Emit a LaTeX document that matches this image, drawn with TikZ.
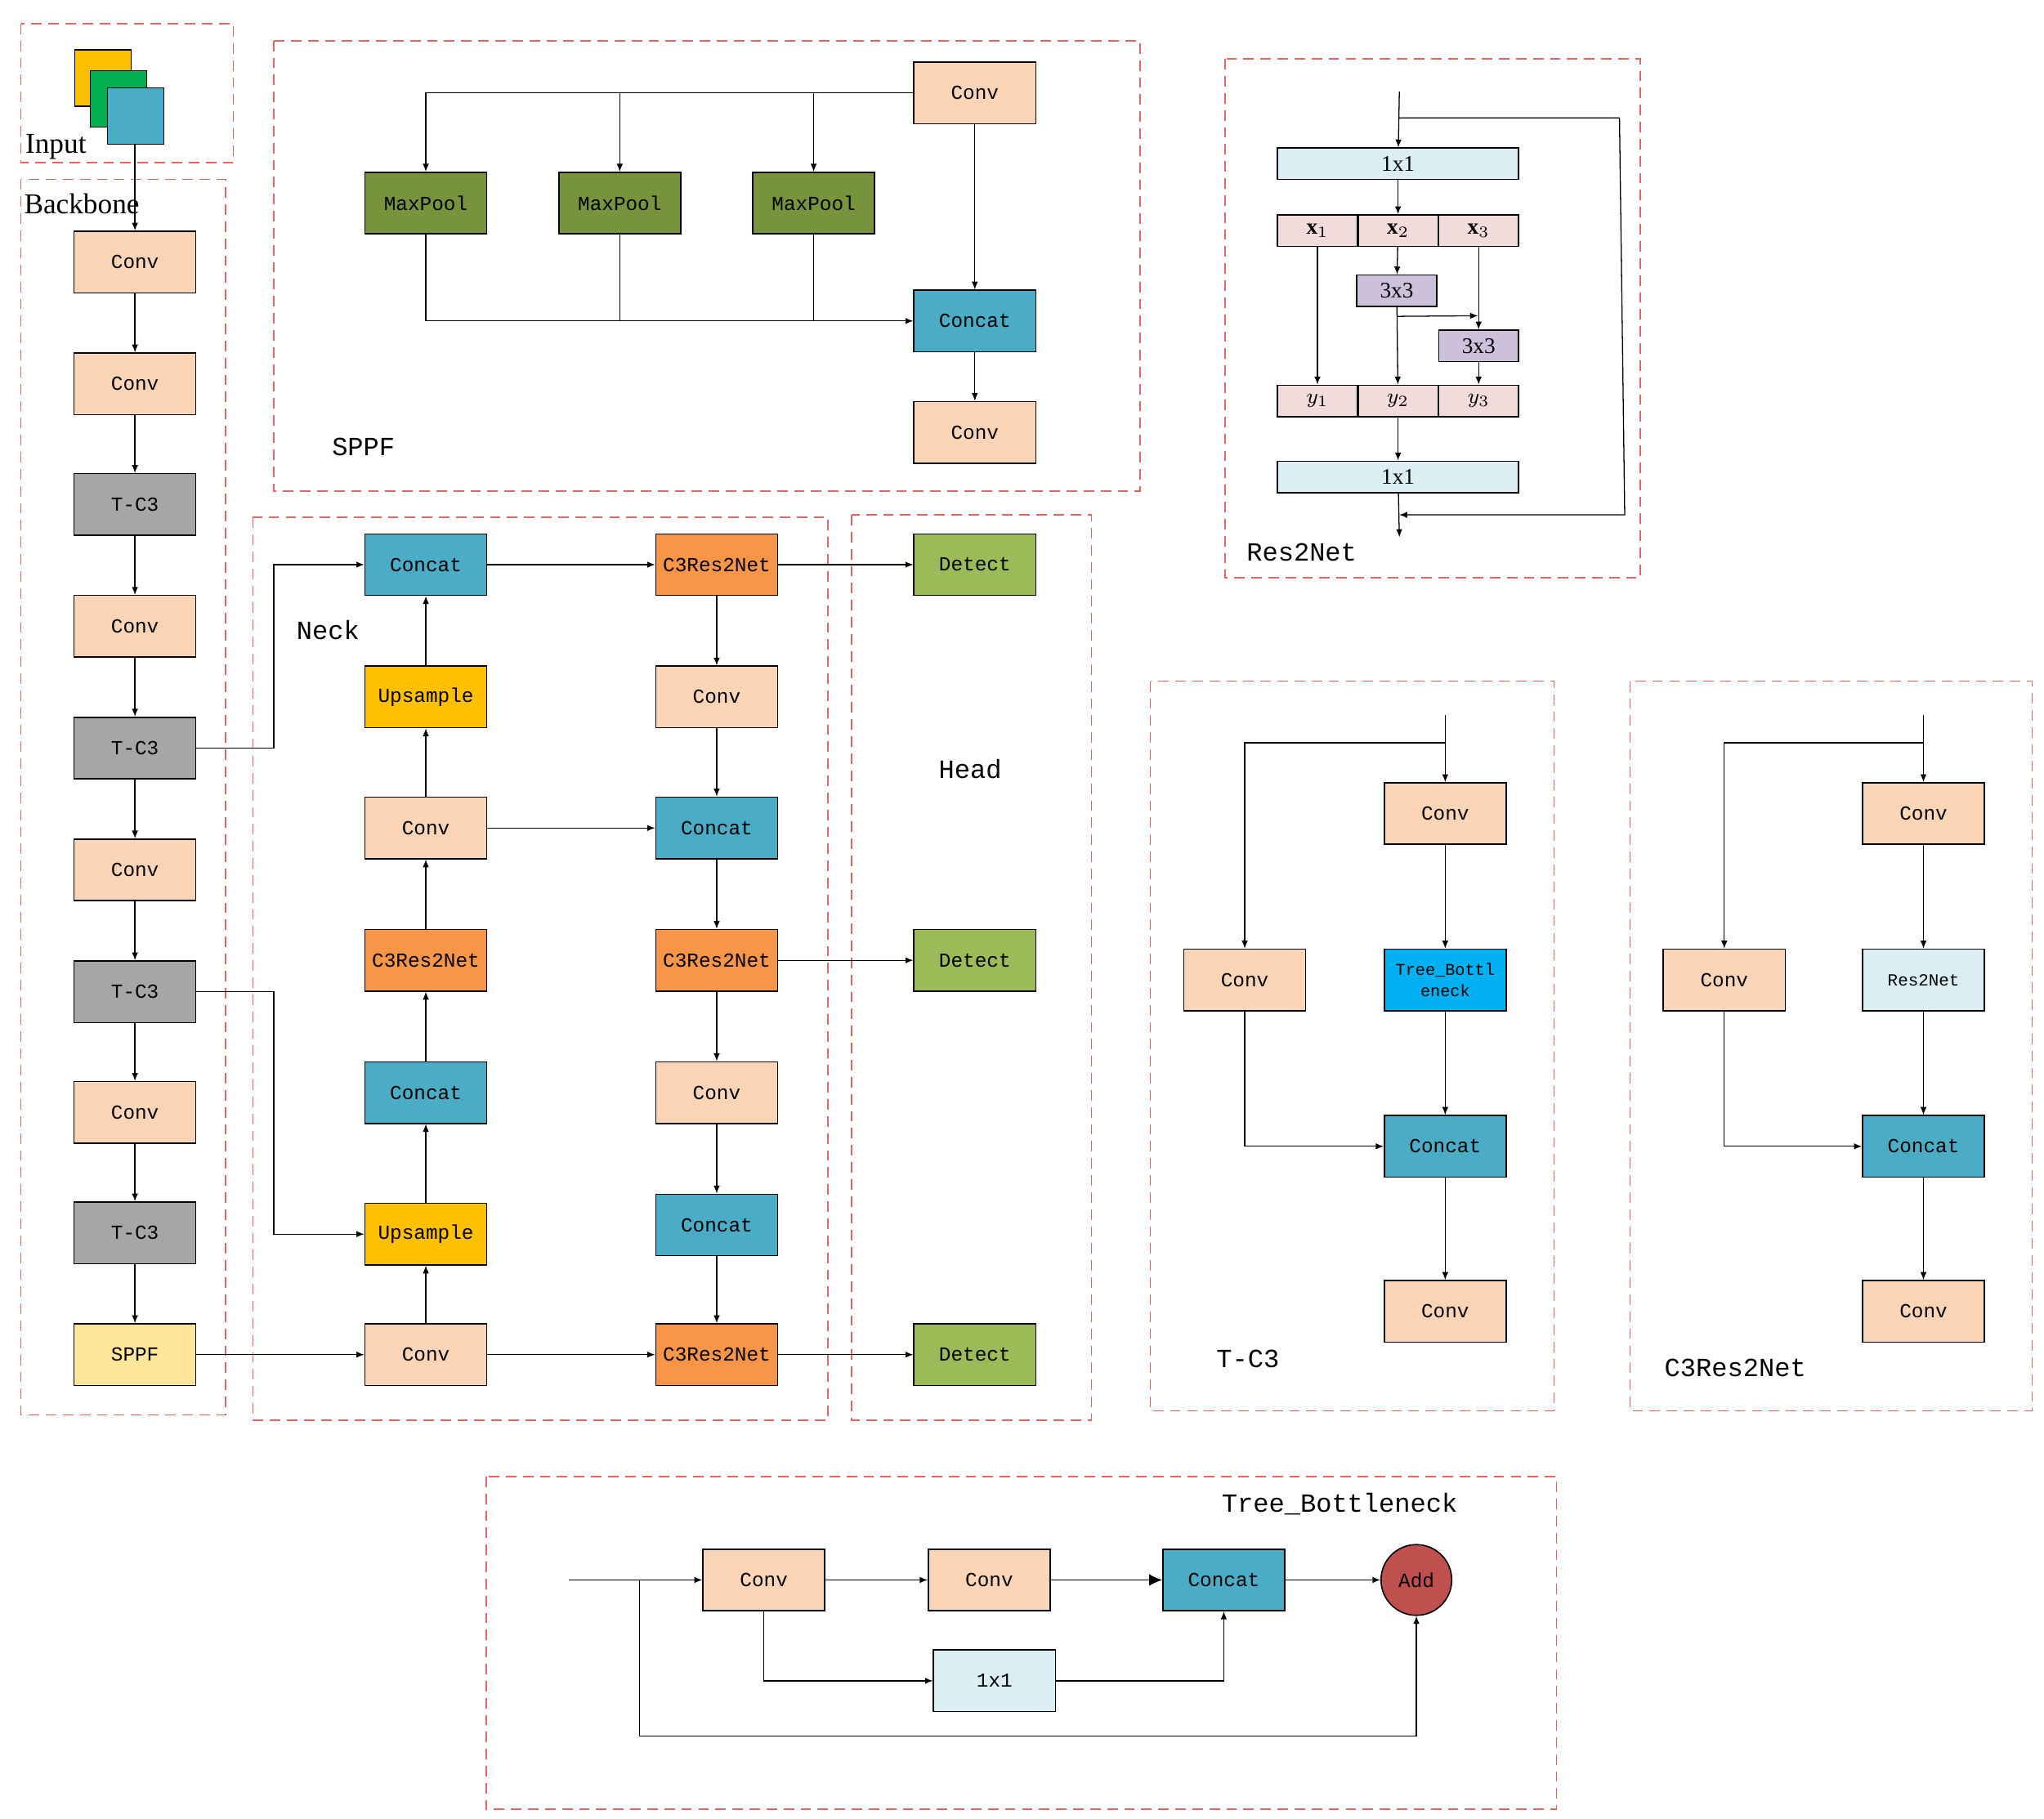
\documentclass[tikz,border=0pt]{standalone}
\usepackage{fontspec}
\setmainfont{Liberation Serif}
\newfontfamily\mono{Liberation Mono}
\usetikzlibrary{arrows.meta}
\definecolor{dashred}{HTML}{E06666}
\definecolor{cpeach}{HTML}{FBD5B5}
\definecolor{cgray}{HTML}{A6A6A6}
\definecolor{csppf}{HTML}{FFE699}
\definecolor{cmax}{HTML}{77933C}
\definecolor{cteal}{HTML}{4BACC6}
\definecolor{cup}{HTML}{FFC000}
\definecolor{corange}{HTML}{F79646}
\definecolor{cdet}{HTML}{9BBB59}
\definecolor{clblue}{HTML}{DAEEF3}
\definecolor{cpink}{HTML}{F2DCDB}
\definecolor{cpurp}{HTML}{CCC0DA}
\definecolor{ctree}{HTML}{00B0F0}
\definecolor{cadd}{HTML}{C0504D}
\definecolor{cygreen}{HTML}{00B050}
\begin{document}
\begin{tikzpicture}[x=0.5pt,y=-0.5pt,
 bx/.style={draw,line width=0.5pt,minimum width=46.5pt,minimum height=23.5pt,inner sep=0pt,font=\mono\fontsize{7.6}{9}\selectfont},
 sb/.style={draw,line width=0.5pt,minimum width=92pt,minimum height=12pt,inner sep=0pt,font=\fontsize{8.5}{9}\selectfont},
 cell/.style={draw,line width=0.5pt,minimum width=30.5pt,minimum height=12pt,inner sep=0pt,font=\fontsize{8.5}{9}\selectfont},
 dsh/.style={draw=dashred,dash pattern=on 4pt off 2.5pt,line width=0.5pt},
 arr/.style={-{Latex[length=3pt,width=2.4pt]},line width=0.4pt},
 ln/.style={line width=0.4pt},
 ttl/.style={anchor=base west,inner sep=0pt,font=\mono\fontsize{10}{11}\selectfont}]
\useasboundingbox (0,0) rectangle (1560,1388);
% ---------- Input
\draw[dsh] (16,18) rectangle (178,124);
\draw[fill=cup] (57,38) rectangle (100,81);
\draw[fill=cygreen] (69,54) rectangle (112,97);
\draw[fill=cteal] (82,67) rectangle (125,110);
\coordinate (inp) at (103,110);
\node[anchor=base west,inner sep=0pt,font=\fontsize{11}{12}\selectfont] at (19,117) {Input};
% ---------- Backbone
\draw[dsh] (16,137) rectangle (172,1080);
\node[anchor=base west,inner sep=0pt,font=\fontsize{11}{12}\selectfont] at (18,163) {Backbone};
\node[bx,fill=cpeach] (b1) at (103,200) {Conv};
\node[bx,fill=cpeach] (b2) at (103,293) {Conv};
\node[bx,fill=cgray] (b3) at (103,385) {T-C3};
\node[bx,fill=cpeach] (b4) at (103,478) {Conv};
\node[bx,fill=cgray] (b5) at (103,571) {T-C3};
\node[bx,fill=cpeach] (b6) at (103,664) {Conv};
\node[bx,fill=cgray] (b7) at (103,757) {T-C3};
\node[bx,fill=cpeach] (b8) at (103,849) {Conv};
\node[bx,fill=cgray] (b9) at (103,941) {T-C3};
\node[bx,fill=csppf] (b10) at (103,1034) {SPPF};
\draw[arr] (inp) -- (b1);
\foreach \a/\b in {b1/b2,b2/b3,b3/b4,b4/b5,b5/b6,b6/b7,b7/b8,b8/b9,b9/b10} \draw[arr] (\a) -- (\b);
% ---------- SPPF
\draw[dsh] (209,31) rectangle (870,375);
\node[ttl] at (253,348) {SPPF};
\node[bx,fill=cpeach] (s0) at (744,71) {Conv};
\node[bx,fill=cmax] (m1) at (325,155) {MaxPool};
\node[bx,fill=cmax] (m2) at (473,155) {MaxPool};
\node[bx,fill=cmax] (m3) at (621,155) {MaxPool};
\node[bx,fill=cteal] (sc) at (744,245) {Concat};
\node[bx,fill=cpeach] (s2) at (744,330) {Conv};
\draw[arr] (s0.west) -| (m1.north);
\draw[arr] (m2.north|-s0.west) -- (m2.north);
\draw[arr] (m3.north|-s0.west) -- (m3.north);
\draw[arr] (m1.south) |- (sc.west);
\draw[ln] (m2.south) -- (m2.south|-sc.west);
\draw[ln] (m3.south) -- (m3.south|-sc.west);
\draw[arr] (s0) -- (sc);
\draw[arr] (sc) -- (s2);
% ---------- Neck
\draw[dsh] (193,395) rectangle (632,1084);
\node[ttl] at (226,488) {Neck};
\node[bx,fill=cteal] (n1) at (325,431) {Concat};
\node[bx,fill=cup] (n2) at (325,532) {Upsample};
\node[bx,fill=cpeach] (n3) at (325,632) {Conv};
\node[bx,fill=corange] (n4) at (325,733) {C3Res2Net};
\node[bx,fill=cteal] (n5) at (325,834) {Concat};
\node[bx,fill=cup] (n6) at (325,942) {Upsample};
\node[bx,fill=cpeach] (n7) at (325,1034) {Conv};
\node[bx,fill=corange] (r1) at (547,431) {C3Res2Net};
\node[bx,fill=cpeach] (r2) at (547,532) {Conv};
\node[bx,fill=cteal] (r3) at (547,632) {Concat};
\node[bx,fill=corange] (r4) at (547,733) {C3Res2Net};
\node[bx,fill=cpeach] (r5) at (547,834) {Conv};
\node[bx,fill=cteal] (r6) at (547,935) {Concat};
\node[bx,fill=corange] (r7) at (547,1034) {C3Res2Net};
\foreach \a/\b in {n7/n6,n6/n5,n5/n4,n4/n3,n3/n2,n2/n1,r1/r2,r2/r3,r3/r4,r4/r5,r5/r6,r6/r7,n1/r1,n3/r3,n7/r7,b10/n7} \draw[arr] (\a) -- (\b);
\draw[arr] (b5.east) -- (209,571) -- (209,431) -- (n1.west);
\draw[arr] (b7.east) -- (209,757) -- (209,942) -- (n6.west);
% ---------- Head
\draw[dsh] (650,393) rectangle (833,1084);
\node[ttl] at (716,594) {Head};
\node[bx,fill=cdet] (d1) at (744,431) {Detect};
\node[bx,fill=cdet] (d2) at (744,733) {Detect};
\node[bx,fill=cdet] (d3) at (744,1034) {Detect};
\draw[arr] (r1) -- (d1); \draw[arr] (r4) -- (d2); \draw[arr] (r7) -- (d3);
% ---------- Res2Net
\draw[dsh] (935,45) rectangle (1252,441);
\node[ttl] at (951,428) {Res2Net};
\node[sb,fill=clblue] (q1) at (1067,125) {1x1};
\node[cell,fill=cpink] (x1) at (1005.5,176) {$\mathbf{x}_1$};
\node[cell,fill=cpink] (x2) at (1067,176) {$\mathbf{x}_2$};
\node[cell,fill=cpink] (x3) at (1128.5,176) {$\mathbf{x}_3$};
\node[cell,fill=cpurp] (k1) at (1066,222) {3x3};
\node[cell,fill=cpurp] (k2) at (1128.5,264) {3x3};
\node[cell,fill=cpink] (y1) at (1005.5,306) {$y_1$};
\node[cell,fill=cpink] (y2) at (1067,306) {$y_2$};
\node[cell,fill=cpink] (y3) at (1128.5,306) {$y_3$};
\node[sb,fill=clblue] (q2) at (1067,364) {1x1};
\coordinate (rin) at (1068,70);
\coordinate (rout) at (1068,410);
\draw[arr] (rin) -- (q1);
\draw[arr] (q1) -- (x2);
\draw[arr] (x1) -- (y1);
\draw[arr] (x2) -- (k1);
\draw[arr] (k1) -- (y2);
\draw[arr] (k1.south) ++(0,7) -- (1128,241);
\draw[arr] (x3) -- (k2);
\draw[arr] (k2) -- (y3);
\draw[arr] (y2) -- (q2);
\draw[arr] (q2) -- (rout);
\draw[arr] (1068,90) -- (1236,90) -- (1240,393) -- (1068,393);
% ---------- T-C3
\draw[dsh] (878,520) rectangle (1186,1077);
\node[ttl] at (928,1044) {T-C3};
\coordinate (tin) at (1103,546);
\node[bx,fill=cpeach] (t1) at (1103,621) {Conv};
\node[bx,fill=cpeach] (t2) at (950,748) {Conv};
\node[bx,fill=ctree,align=center,font=\mono\fontsize{6.3}{8}\selectfont] (t3) at (1103,748) {Tree\_Bottl\\eneck};
\node[bx,fill=cteal] (t4) at (1103,875) {Concat};
\node[bx,fill=cpeach] (t5) at (1103,1001) {Conv};
\draw[arr] (tin) -- (t1);
\draw[arr] (1103,567) -| (t2.north);
\draw[arr] (t1) -- (t3); \draw[arr] (t3) -- (t4); \draw[arr] (t4) -- (t5);
\draw[arr] (t2.south) |- (t4.west);
% ---------- C3Res2Net
\draw[dsh] (1244,520) rectangle (1551,1077);
\node[ttl] at (1270,1051) {C3Res2Net};
\coordinate (cin) at (1468,546);
\node[bx,fill=cpeach] (c1) at (1468,621) {Conv};
\node[bx,fill=cpeach] (c2) at (1316,748) {Conv};
\node[bx,fill=clblue,font=\mono\fontsize{6.5}{8}\selectfont] (c3) at (1468,748) {Res2Net};
\node[bx,fill=cteal] (c4) at (1468,875) {Concat};
\node[bx,fill=cpeach] (c5) at (1468,1001) {Conv};
\draw[arr] (cin) -- (c1);
\draw[arr] (1468,567) -| (c2.north);
\draw[arr] (c1) -- (c3); \draw[arr] (c3) -- (c4); \draw[arr] (c4) -- (c5);
\draw[arr] (c2.south) |- (c4.west);
% ---------- Tree_Bottleneck
\draw[dsh] (371,1127) rectangle (1188,1381);
\node[ttl] at (932,1154) {Tree\_Bottleneck};
\coordinate (tbin) at (434,1206);
\node[bx,fill=cpeach] (e1) at (583,1206) {Conv};
\node[bx,fill=cpeach] (e2) at (755,1206) {Conv};
\node[bx,fill=cteal] (e3) at (934,1206) {Concat};
\node[draw,line width=0.5pt,fill=cadd,circle,minimum size=27pt,inner sep=0pt,font=\mono\fontsize{7.6}{9}\selectfont] (e4) at (1081,1206) {Add};
\node[bx,fill=clblue] (e5) at (759,1283) {1x1};
\draw[arr] (tbin) -- (e1);
\draw[arr] (e1) -- (e2);
\draw[-{Latex[length=5pt,width=4.5pt]},line width=0.4pt] (e2) -- (e3);
\draw[arr] (e3) -- (e4);
\draw[arr] (e1.south) |- (e5.west);
\draw[arr] (e5.east) -| (e3.south);
\draw[arr] (488,1206) -- (488,1325) -| (e4.south);
\end{tikzpicture}
\end{document}
